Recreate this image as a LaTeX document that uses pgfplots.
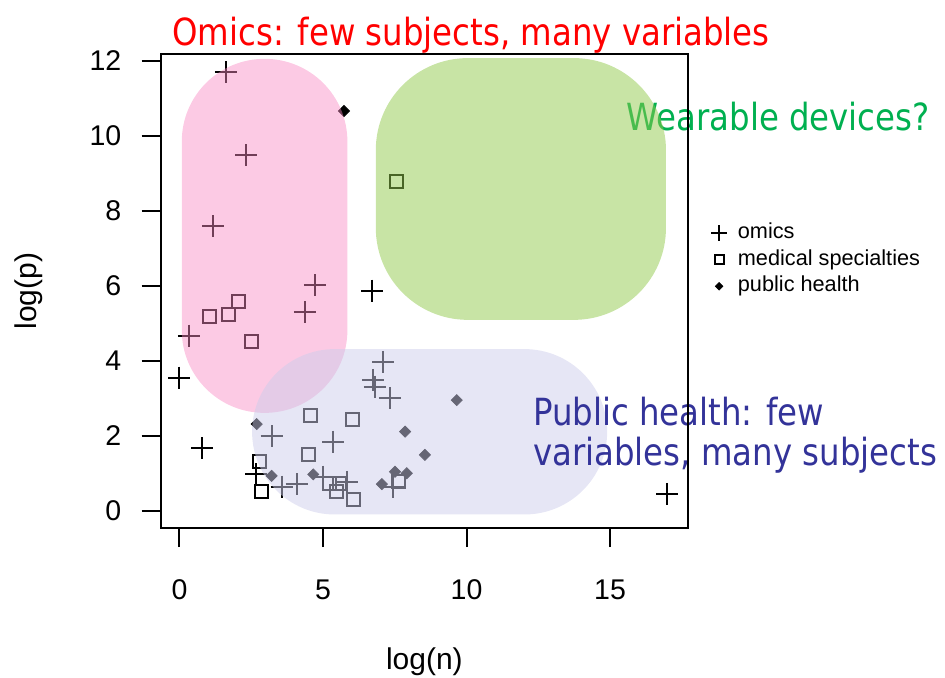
\documentclass[border=0pt]{standalone}
\usepackage{fontspec}
\setmainfont{Liberation Sans}
\newfontfamily\annot[FakeStretch=0.866]{DejaVu Sans}
\usepackage{pgfplots}
\pgfplotsset{compat=1.18}
\definecolor{pinkfill}{RGB}{249,138,195}
\definecolor{greenfill}{RGB}{145,201,75}
\definecolor{lavfill}{RGB}{205,205,235}
\definecolor{titlered}{RGB}{255,0,0}
\definecolor{wgreen}{RGB}{0,176,80}
\definecolor{phblue}{RGB}{51,51,153}

\pgfplotstableread{
x y
1.62 11.69
2.32 9.48
1.17 7.59
4.72 6.01
4.37 5.29
6.71 5.87
0.33 4.67
0.00 3.55
0.80 1.66
2.67 0.97
3.21 1.99
3.56 0.64
4.08 0.71
5.36 1.84
5.01 0.91
5.83 0.77
7.10 3.97
6.75 3.49
6.81 3.31
7.33 3.00
7.45 0.64
17.00 0.45
}\omics

\pgfplotstableread{
x y
7.57 8.78
2.05 5.57
1.72 5.22
1.03 5.17
2.51 4.51
4.55 2.53
6.03 2.42
4.51 1.50
2.80 1.31
2.86 0.51
5.24 0.73
5.48 0.51
5.59 0.73
6.06 0.30
7.62 0.77
}\medical

\pgfplotstableread{
x y
5.73 10.66
2.69 2.31
3.21 0.93
4.66 0.97
9.66 2.95
7.86 2.11
8.55 1.49
7.51 1.04
7.92 1.00
7.05 0.71
}\public

\begin{document}
\begin{tikzpicture}
\useasboundingbox (-80.35pt,-74.5pt) rectangle (392.15pt,264pt);
\tikzset{annot/.style={anchor=base west, inner sep=0pt, font=\annot\fontsize{18.7}{22}\selectfont}}
\node[annot, text=titlered] at (5.65pt,241.5pt) {Omics: few subjects, many variables};
\node[annot, text=wgreen] at (232.65pt,198.65pt) {Wearable devices?};

\begin{axis}[
  at={(0pt,0pt)}, anchor=south west,
  scale only axis, width=263.65pt, height=237pt,
  xmin=-0.655, xmax=17.718, ymin=-0.461, ymax=12.179,
  axis on top, clip mode=individual, clip marker paths=true,
  axis line style={line width=1pt},
  tick align=outside, tick pos=left,
  major tick style={line width=1pt, black},
  major tick length=9.5pt,
  xtick={0,5,10,15}, ytick={0,2,4,6,8,10,12},
  /pgf/number format/assume math mode=true,
  ticklabel style={font=\fontsize{14.25}{17}\selectfont},
  xticklabel style={anchor=north, inner sep=0pt, yshift=-16pt},
  yticklabel style={anchor=east, inner sep=0pt, xshift=-10pt},
  xlabel={log(n)}, ylabel={log(p)},
  label style={font=\fontsize{15}{18}\selectfont},
  xlabel style={at={(axis description cs:0.5,0)}, anchor=base, inner sep=0pt, yshift=-70.5pt},
  ylabel style={at={(axis description cs:0,0.5)}, anchor=center, inner sep=0pt, yshift=65.85pt},
  legend style={draw=none, fill=none, inner sep=0pt,
    at={(axis description cs:1.0423,0.566)}, anchor=west,
    font=\fontsize{10.85}{13}\selectfont,
    nodes={inner sep=0pt, text height=9.45pt, text depth=3.85pt},
    column sep=5.2pt},
  legend cell align=left,
]
\addplot[only marks, mark=+, mark size=5.5pt, mark options={line width=1pt}, black,
  legend image code/.code={\path (-4pt,0pt) (4pt,0pt); \draw[black, line width=1pt] plot[mark=+, mark size=3.9pt] coordinates {(0pt,0pt)};}]
  table[x=x,y=y] {\omics};
\addlegendentry{omics}
\addplot[only marks, mark=square, mark size=3.25pt, mark options={line width=1pt}, black,
  legend image code/.code={\path (-4pt,0pt) (4pt,0pt); \draw[black, line width=1pt] plot[mark=square, mark size=2.25pt] coordinates {(0pt,0pt)};}]
  table[x=x,y=y] {\medical};
\addlegendentry{medical specialties}
\addplot[only marks, mark=square*, mark size=1.95pt, mark options={rotate=45, line width=0.4pt, fill=black}, black,
  legend image code/.code={\path (-4pt,0pt) (4pt,0pt); \draw[black, fill=black, line width=0.3pt] plot[mark=square*, mark size=1.35pt, mark options={rotate=45}] coordinates {(0pt,0pt)};}]
  table[x=x,y=y] {\public};
\addlegendentry{public health}

\fill[pinkfill, opacity=0.45, rounded corners=41.3pt] (axis cs:0.08,2.61) rectangle (axis cs:5.85,12.05);
\fill[greenfill, opacity=0.5, rounded corners=46pt] (axis cs:6.84,5.09) rectangle (axis cs:16.95,12.07);
\fill[lavfill, opacity=0.5, rounded corners=41.3pt] (axis cs:2.53,-0.10) rectangle (axis cs:14.9,4.31);
\node[annot, text=phblue] at (axis cs:12.307,2.2857) {Public health: few};
\node[annot, text=phblue] at (axis cs:12.307,1.219) {variables, many subjects};
\end{axis}
\end{tikzpicture}
\end{document}
